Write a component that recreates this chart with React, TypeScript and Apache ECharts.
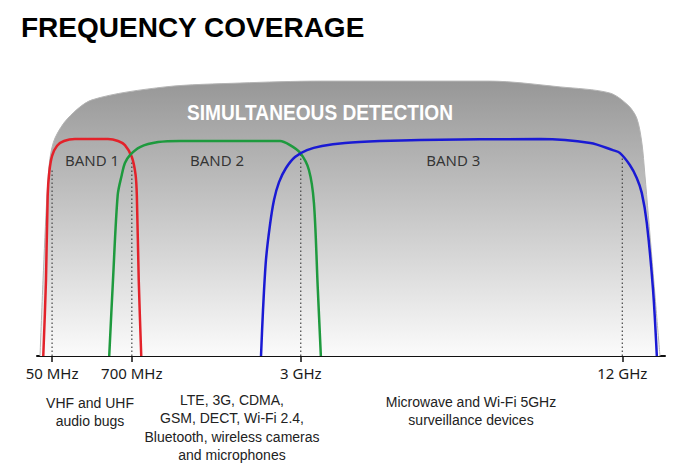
import React, { useEffect, useRef } from "react";
import * as echarts from "echarts";

// Schematic x scale 0..100, y scale 0..100 (signal level)
const tickValues = [2.4, 15.1, 42.0, 93.2];
const tickLabels = ["50 MHz", "700 MHz", "3 GHz", "12 GHz"];
const dottedTops = [68, 71, 73.6, 71.7];

const dome: [number, number][] = [
  [0.48, 0], [0.96, 27.5], [1.59, 58.3], [2.07, 71.7], [2.87, 79.0], [4.94, 86.2],
  [8.76, 92.8], [20.4, 97.5], [32.3, 98.9], [45.1, 99.6], [72.1, 99.6], [83.3, 97.5],
  [91.2, 95.3], [94.1, 90.9], [95.5, 86.2], [96.3, 77.5], [96.8, 65.6], [97.9, 35.9],
  [99.2, 0],
];

const band1: [number, number][] = [
  [1.0, 0], [1.43, 27.5], [1.7, 58.0], [1.95, 66.5], [2.4, 72.5], [3.2, 76.2],
  [4.3, 77.9], [6.05, 78.6], [11.3, 78.6], [12.9, 77.9], [14.0, 76.4], [15.1, 72.1],
  [15.7, 65.6], [15.9, 58.0], [16.2, 27.5], [16.6, 0],
];

const band2: [number, number][] = [
  [11.5, 0], [12.1, 27.5], [12.85, 58.3], [13.5, 65.6], [14.0, 69.9], [14.8, 72.8],
  [16.4, 75.7], [19.3, 77.5], [22.8, 77.9], [38.7, 77.9], [40.3, 76.4], [41.9, 73.6],
  [43.3, 67.4], [44.1, 55.4], [44.7, 25], [45.2, 0],
];

const band3: [number, number][] = [
  [35.67, 0], [35.99, 16.7], [36.46, 34.8], [37.1, 47.5], [37.74, 56.5], [38.54, 63.0],
  [39.65, 68.1], [41.08, 72.1], [42.99, 74.6], [45.38, 76.1], [49.04, 77.2], [54.62, 77.9],
  [61.0, 78.3], [80.1, 78.6], [88.1, 77.2], [91.7, 74.6], [92.8, 73.6], [94.4, 69.2],
  [95.5, 64.5], [96.3, 59.1], [97.1, 48.2], [98.1, 23.9], [98.7, 0],
];

const bandNames = ["BAND 1", "BAND 2", "BAND 3"];
const bandLabelX = [8.76, 28.66, 66.3];
const bandLabelY = [71, 71, 71];

const titleText = "FREQUENCY COVERAGE";
const domeText = "SIMULTANEOUS DETECTION";

const descriptions = [
  "VHF and UHF\naudio bugs",
  "LTE, 3G, CDMA,\nGSM, DECT, Wi-Fi 2.4,\nBluetooth, wireless cameras\nand microphones",
  "Microwave and Wi-Fi 5GHz\nsurveillance devices",
];

export default function App() {
  const ref = useRef<HTMLDivElement>(null);
  useEffect(() => {
    if (!ref.current) return;
    const chart = echarts.init(ref.current, null, { renderer: "svg" });
    const lineBase = { type: "line" as const, symbol: "none", silent: true };
    const dotted = tickValues.map((tv, i) => ({
      ...lineBase,
      data: [[tv, 0], [tv, dottedTops[i]]],
      lineStyle: { type: [1.5, 2.5], color: "#444", width: 1.2 },
      z: 3,
    }));
    const bandColors = ["#e3222a", "#1e9a3e", "#1a1ad4"];
    const bands = [band1, band2, band3].map((b, i) => ({
      ...lineBase,
      data: b,
      smooth: 0.3,
      lineStyle: { color: bandColors[i], width: 2.5 },
      z: 4,
    }));
    chart.setOption({
      animation: false,
      backgroundColor: "#ffffff",
      grid: { left: 37, right: 24, top: 80, bottom: 118 },
      xAxis: {
        type: "value",
        min: 0,
        max: 100,
        splitLine: { show: false },
        axisLine: { show: true, lineStyle: { color: "#111", width: 2 } },
        axisTick: {
          show: true,
          customValues: tickValues,
          length: 6,
          lineStyle: { color: "#111", width: 1.5 },
        },
        axisLabel: {
          show: true,
          customValues: tickValues,
          margin: 9,
          fontFamily: "Noto Sans",
          fontSize: 15,
          color: "#1a1a1a",
          formatter: (v: number) => {
            const idx = tickValues.findIndex((t) => Math.abs(t - v) < 1e-6);
            return idx >= 0 ? tickLabels[idx] : "";
          },
        },
      },
      yAxis: { type: "value", min: 0, max: 100, show: false },
      series: [
        {
          ...lineBase,
          data: dome,
          smooth: 0.3,
          lineStyle: { width: 1, color: "#b4b4b4" },
          areaStyle: {
            opacity: 1,
            color: new echarts.graphic.LinearGradient(0, 0, 0, 1, [
              { offset: 0, color: "#979797" },
              { offset: 1, color: "#fbfbfb" },
            ]),
          },
          z: 1,
        },
        ...dotted,
        ...bands,
        {
          type: "scatter",
          symbolSize: 1,
          itemStyle: { color: "transparent" },
          silent: true,
          z: 5,
          label: {
            show: true,
            position: "inside",
            formatter: "{b}",
            fontFamily: "Noto Sans",
            fontSize: 15,
            color: "#111",
          },
          data: bandNames.map((n, i) => ({ name: n, value: [bandLabelX[i], bandLabelY[i]] })),
        },
      ],
      graphic: [
        {
          type: "text",
          left: 21,
          top: 13,
          style: {
            text: titleText,
            fontFamily: "Liberation Sans, Arial, sans-serif",
            fontWeight: "bold",
            fontSize: 28,
            fill: "#000",
          },
        },
        {
          type: "text",
          x: 320,
          y: 112,
          scaleX: 0.87,
          z: 10,
          style: {
            text: domeText,
            fontFamily: "Liberation Sans, Arial, sans-serif",
            fontWeight: "bold",
            fontSize: 22,
            fill: "#ffffff",
            align: "center",
            verticalAlign: "middle",
          },
        },
        ...descriptions.map((d, i) => ({
          type: "text",
          x: [90, 232, 471][i],
          y: [394, 391, 393][i],
          style: {
            text: d,
            fontFamily: "Liberation Sans, Arial, sans-serif",
            fontSize: 14,
            lineHeight: i === 1 ? 18.3 : 18,
            fill: "#222",
            align: "center",
            verticalAlign: "top",
          },
        })),
      ],
    });
    return () => chart.dispose();
  }, []);
  return (
    <div
      ref={ref}
      style={{ position: "fixed", left: 0, top: 0, width: 689, height: 474, background: "#fff" }}
    />
  );
}
